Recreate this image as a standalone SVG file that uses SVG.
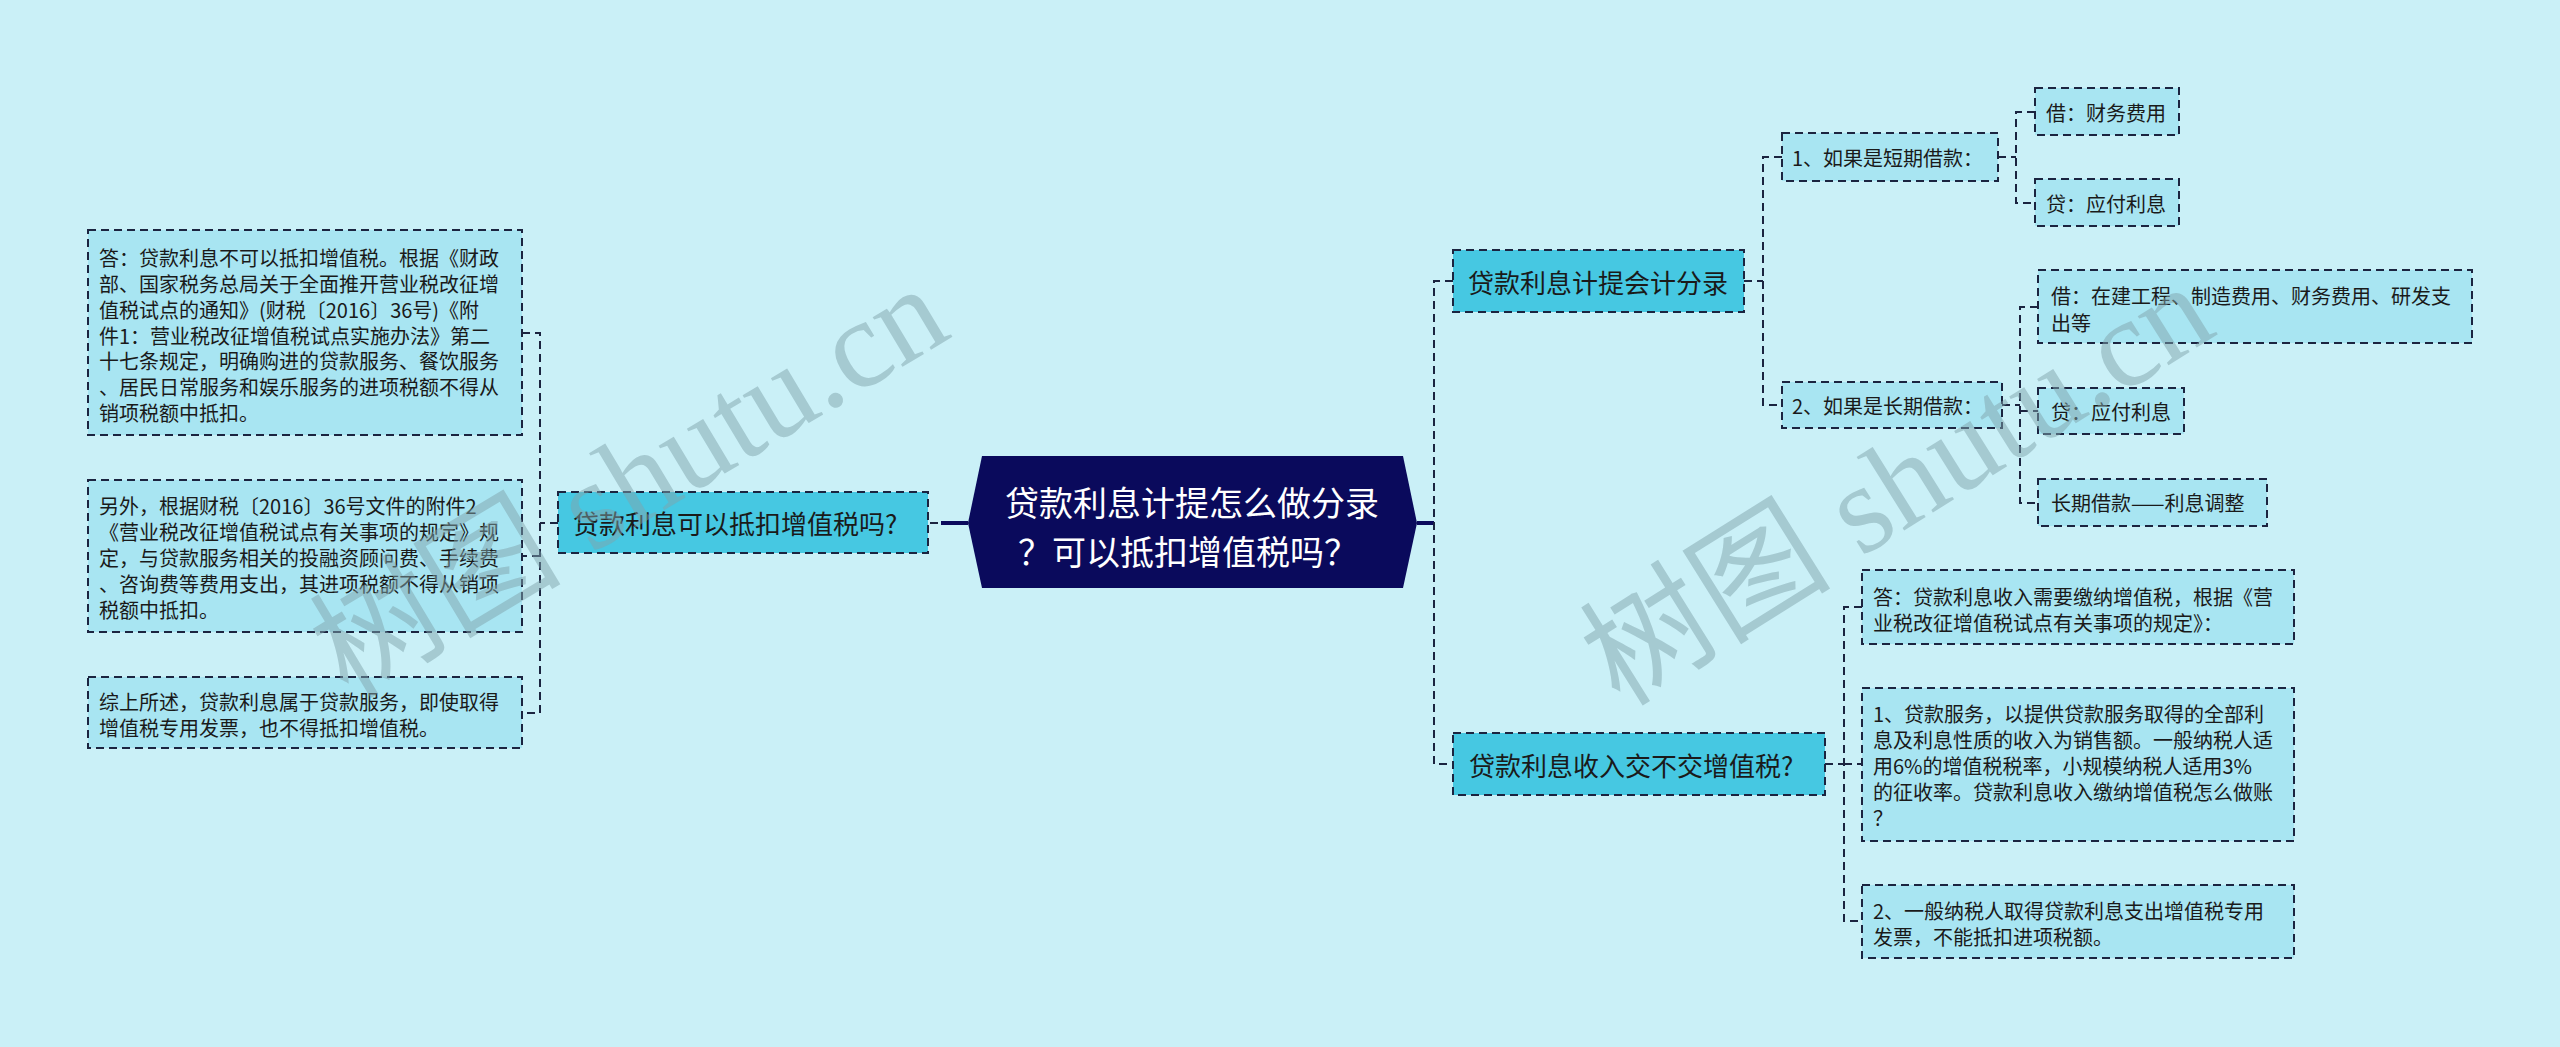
<svg xmlns="http://www.w3.org/2000/svg" width="2560" height="1047" viewBox="0 0 2560 1047">
<style>
.bg{fill:#CAF0F7}
.leaf{fill:#A8E5F2;stroke:#1B2440;stroke-width:2;stroke-dasharray:8 5}
.branch{fill:#46C8E2;stroke:#1B2440;stroke-width:2;stroke-dasharray:8 5}
.conn{fill:none;stroke:#1B2440;stroke-width:2;stroke-dasharray:8 5}
.solid{fill:none;stroke:#0A0A5C;stroke-width:4}
.t{font-family:"Noto Sans CJK SC","Noto Sans",sans-serif;fill:#1A1A1A;dominant-baseline:central}
.t20{font-size:20px}
.t26{font-size:26px}
.ct{font-family:"Noto Sans CJK SC","Noto Sans",sans-serif;font-size:34px;fill:#FFFFFF;dominant-baseline:central;text-anchor:middle}
.wm{font-family:"Liberation Serif","Noto Sans CJK SC",serif;font-size:126px;fill:#7FA4AB;fill-opacity:0.5}
</style>
<rect class="bg" x="0" y="0" width="2560" height="1047"/>

<g id="connectors">
  <path class="conn" d="M930,523 H941"/>
  <path class="solid" d="M941,523 H968"/>
  <path class="conn" d="M558,523 H540"/>
  <path class="conn" d="M522,333 H540 V713 H522"/>
  <path class="conn" d="M540,556 H522"/>
  <path class="solid" d="M1417,523 H1434"/>
  <path class="conn" d="M1453,281 H1434 V764 H1453"/>
  <path class="conn" d="M1744,281 H1763"/>
  <path class="conn" d="M1782,157 H1763 V405 H1782"/>
  <path class="conn" d="M1998,157 H2016"/>
  <path class="conn" d="M2035,112 H2016 V203 H2035"/>
  <path class="conn" d="M2002,405 H2020"/>
  <path class="conn" d="M2038,307 H2020 V503 H2038"/>
  <path class="conn" d="M2020,411 H2038"/>
  <path class="conn" d="M1825,764 H1844"/>
  <path class="conn" d="M1862,607 H1844 V921 H1862"/>
  <path class="conn" d="M1844,764 H1862"/>
</g>

<g id="center">
  <polygon points="968,523 982,456 1403,456 1417,523 1403,588 982,588" fill="#0A0A5C"/>
  <text class="ct" x="1192" y="501">贷款利息计提怎么做分录</text>
  <text class="ct" x="1188" y="550">？可以抵扣增值税吗？</text>
</g>

<g id="left-branch">
  <rect class="branch" x="558" y="492" width="370" height="61"/>
  <text class="t t26" x="573" y="522">贷款利息可以抵扣增值税吗?</text>
</g>

<g id="left-leaf-1">
  <rect class="leaf" x="88" y="230" width="434" height="205"/>
  <text class="t t20" x="99" y="257">答：贷款利息不可以抵扣增值税。根据《财政</text>
  <text class="t t20" x="99" y="283">部、国家税务总局关于全面推开营业税改征增</text>
  <text class="t t20" x="99" y="309">值税试点的通知》(财税〔2016〕36号)《附</text>
  <text class="t t20" x="99" y="335">件1：营业税改征增值税试点实施办法》第二</text>
  <text class="t t20" x="99" y="360">十七条规定，明确购进的贷款服务、餐饮服务</text>
  <text class="t t20" x="99" y="386">、居民日常服务和娱乐服务的进项税额不得从</text>
  <text class="t t20" x="99" y="412">销项税额中抵扣。</text>
</g>

<g id="left-leaf-2">
  <rect class="leaf" x="88" y="480" width="434" height="152"/>
  <text class="t t20" x="99" y="505">另外，根据财税〔2016〕36号文件的附件2</text>
  <text class="t t20" x="99" y="531">《营业税改征增值税试点有关事项的规定》规</text>
  <text class="t t20" x="99" y="557">定，与贷款服务相关的投融资顾问费、手续费</text>
  <text class="t t20" x="99" y="583">、咨询费等费用支出，其进项税额不得从销项</text>
  <text class="t t20" x="99" y="609">税额中抵扣。</text>
</g>

<g id="left-leaf-3">
  <rect class="leaf" x="88" y="677" width="434" height="71"/>
  <text class="t t20" x="99" y="701">综上所述，贷款利息属于贷款服务，即使取得</text>
  <text class="t t20" x="99" y="727">增值税专用发票，也不得抵扣增值税。</text>
</g>

<g id="right-branch-1">
  <rect class="branch" x="1453" y="250" width="291" height="62"/>
  <text class="t t26" x="1468" y="281">贷款利息计提会计分录</text>
</g>

<g id="short-term">
  <rect class="leaf" x="1782" y="133" width="216" height="48"/>
  <text class="t t20" x="1792" y="157">1、如果是短期借款：</text>
</g>
<g id="short-debit">
  <rect class="leaf" x="2035" y="88" width="144" height="47"/>
  <text class="t t20" x="2046" y="112">借：财务费用</text>
</g>
<g id="short-credit">
  <rect class="leaf" x="2035" y="179" width="144" height="47"/>
  <text class="t t20" x="2046" y="203">贷：应付利息</text>
</g>

<g id="long-term">
  <rect class="leaf" x="1782" y="382" width="220" height="46"/>
  <text class="t t20" x="1792" y="405">2、如果是长期借款：</text>
</g>
<g id="long-debit">
  <rect class="leaf" x="2038" y="270" width="434" height="73"/>
  <text class="t t20" x="2051" y="295">借：在建工程、制造费用、财务费用、研发支</text>
  <text class="t t20" x="2051" y="322">出等</text>
</g>
<g id="long-credit">
  <rect class="leaf" x="2038" y="388" width="146" height="46"/>
  <text class="t t20" x="2051" y="411">贷：应付利息</text>
</g>
<g id="long-adjust">
  <rect class="leaf" x="2038" y="479" width="229" height="47"/>
  <text class="t t20" x="2051" y="502">长期借款——利息调整</text>
</g>

<g id="right-branch-2">
  <rect class="branch" x="1453" y="733" width="372" height="62"/>
  <text class="t t26" x="1469" y="764">贷款利息收入交不交增值税?</text>
</g>
<g id="income-1">
  <rect class="leaf" x="1862" y="570" width="432" height="74"/>
  <text class="t t20" x="1873" y="596">答：贷款利息收入需要缴纳增值税，根据《营</text>
  <text class="t t20" x="1873" y="622">业税改征增值税试点有关事项的规定》：</text>
</g>
<g id="income-2">
  <rect class="leaf" x="1862" y="688" width="432" height="153"/>
  <text class="t t20" x="1873" y="713">1、贷款服务，以提供贷款服务取得的全部利</text>
  <text class="t t20" x="1873" y="739">息及利息性质的收入为销售额。一般纳税人适</text>
  <text class="t t20" x="1873" y="765">用6%的增值税税率，小规模纳税人适用3%</text>
  <text class="t t20" x="1873" y="791">的征收率。贷款利息收入缴纳增值税怎么做账</text>
  <text class="t t20" x="1873" y="817">？</text>
</g>
<g id="income-3">
  <rect class="leaf" x="1862" y="885" width="432" height="73"/>
  <text class="t t20" x="1873" y="910">2、一般纳税人取得贷款利息支出增值税专用</text>
  <text class="t t20" x="1873" y="936">发票，不能抵扣进项税额。</text>
</g>

<g id="watermarks">
  <text class="wm" x="0" y="0" transform="translate(348,700) rotate(-31)">树图 shutu.cn</text>
  <text class="wm" x="0" y="0" transform="translate(1620,708) rotate(-32)">树图 shutu.cn</text>
</g>
</svg>
